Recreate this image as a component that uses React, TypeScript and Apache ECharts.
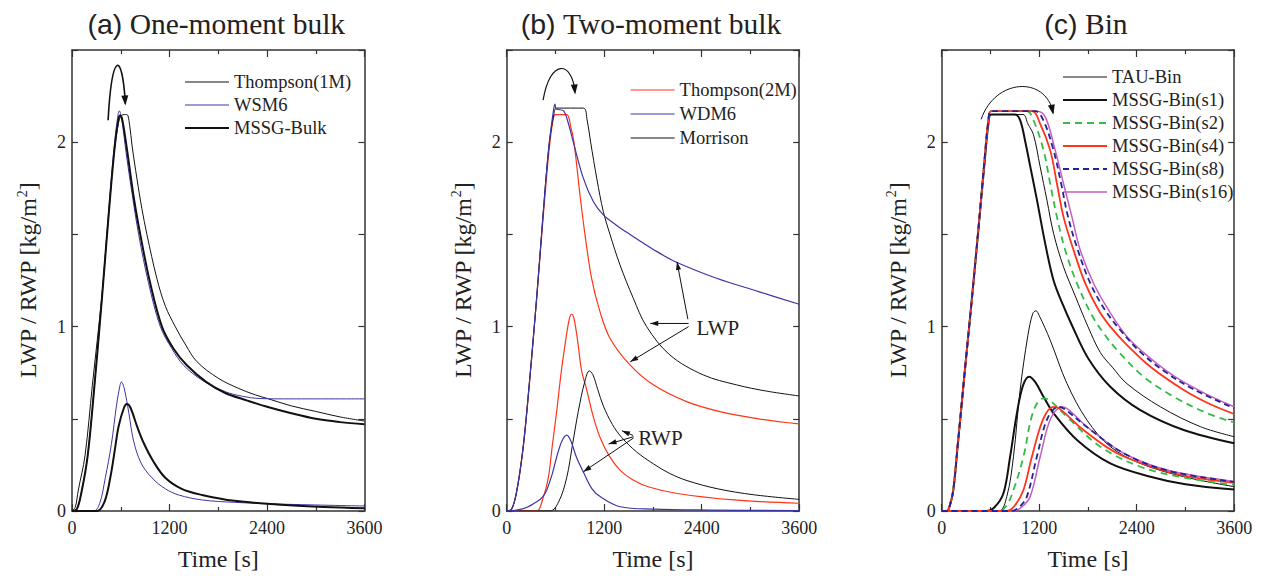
import React, { useEffect, useRef } from 'react';
import * as echarts from 'echarts';

const SERIF = "'Liberation Serif', 'Times New Roman', serif";
const SANS = "'Liberation Sans', Arial, sans-serif";
const INK = '#222';

// ---- axis & labels ----
const timeRange = [0, 3600];
const timeLabelStep = 1200;
const valueRange = [0, 2.5];
const valueTickStep = 0.5;
const panelTags = ['(a)', '(b)', '(c)'];
const panelNames = ['One-moment bulk', 'Two-moment bulk', 'Bin'];
const xName = 'Time [s]';
const legendA = ['Thompson(1M)', 'WSM6', 'MSSG-Bulk'];
const legendB = ['Thompson(2M)', 'WDM6', 'Morrison'];
const legendC = ['TAU-Bin', 'MSSG-Bin(s1)', 'MSSG-Bin(s2)', 'MSSG-Bin(s4)', 'MSSG-Bin(s8)', 'MSSG-Bin(s16)'];

// ---- panel (a) one-moment bulk : [time s, kg/m2] ----
const aThompsonLWP = [[0,0],[40,0.02],[78,0.114],[160,0.3],[250,0.68],[366,1.16],[450,1.6],[520,1.95],[570,2.1],[600,2.14],[640,2.15],[676,2.15],[710,2.09],[738,1.985],[800,1.8],[860,1.64],[922,1.5],[1045,1.26],[1150,1.11],[1271,1.0],[1400,0.9],[1537,0.81],[1800,0.72],[2050,0.665],[2255,0.63],[2420,0.608],[2700,0.57],[3000,0.54],[3300,0.51],[3600,0.488]];
const aWsm6LWP = [[0,0],[60,0.01],[120,0.11],[190,0.29],[250,0.55],[366,1.14],[450,1.62],[520,1.98],[560,2.13],[582,2.17],[610,2.13],[670,1.93],[740,1.72],[820,1.5],[940,1.24],[1087,1.0],[1230,0.88],[1374,0.79],[1600,0.71],[1886,0.647],[2100,0.622],[2300,0.61],[2600,0.608],[3600,0.608]];
const aMssgLWP = [[0,0],[60,0.01],[120,0.11],[190,0.29],[250,0.55],[366,1.14],[450,1.6],[520,1.95],[570,2.12],[594,2.145],[620,2.12],[680,1.95],[760,1.7],[840,1.5],[960,1.24],[1107,1.0],[1250,0.88],[1414,0.79],[1650,0.7],[1886,0.64],[2150,0.6],[2400,0.565],[2700,0.53],[3000,0.5],[3300,0.482],[3600,0.47]];
const aWsm6RWP = [[0,0],[266,0],[340,0.04],[410,0.18],[484,0.36],[550,0.58],[590,0.68],[607,0.7],[640,0.67],[700,0.53],[758,0.38],[850,0.26],[984,0.18],[1150,0.12],[1312,0.087],[1600,0.06],[2000,0.047],[2600,0.037],[3600,0.027]];
const aMssgRWP = [[0,0],[307,0],[400,0.05],[471,0.18],[530,0.34],[574,0.46],[640,0.56],[676,0.58],[720,0.56],[800,0.46],[881,0.37],[1000,0.27],[1148,0.18],[1350,0.12],[1600,0.087],[2000,0.055],[2624,0.033],[3100,0.022],[3600,0.015]];

// ---- panel (b) two-moment bulk ----
const bThompsonLWP = [[0,0],[60,0.01],[120,0.1],[190,0.3],[250,0.55],[366,1.14],[450,1.6],[520,1.95],[570,2.12],[600,2.15],[738,2.15],[790,2.08],[828,2.0],[902,1.714],[963,1.5],[1045,1.262],[1148,1.081],[1271,0.937],[1517,0.792],[1804,0.684],[2214,0.593],[2624,0.539],[3100,0.5],[3600,0.472]];
const bWdm6LWP = [[0,0],[60,0.01],[120,0.1],[190,0.3],[250,0.55],[366,1.14],[450,1.62],[520,1.98],[575,2.17],[594,2.206],[610,2.18],[700,2.17],[760,2.1],[820,2.0],[943,1.805],[1066,1.678],[1189,1.606],[1350,1.55],[1517,1.5],[1800,1.42],[2070,1.353],[2583,1.262],[3100,1.19],[3600,1.121]];
const bMorrisonLWP = [[0,0],[60,0.01],[120,0.1],[190,0.3],[250,0.55],[366,1.14],[450,1.62],[520,1.98],[580,2.15],[615,2.185],[943,2.185],[990,2.12],[1033,2.0],[1110,1.8],[1189,1.624],[1271,1.5],[1394,1.335],[1558,1.154],[1722,1.0],[2009,0.846],[2419,0.738],[2829,0.684],[3200,0.65],[3600,0.624]];
const bThompsonRWP = [[0,0],[369,0],[440,0.06],[512,0.18],[560,0.35],[615,0.54],[670,0.75],[717,0.9],[770,1.04],[799,1.067],[830,1.04],[880,0.9],[922,0.76],[986,0.656],[1060,0.52],[1148,0.4],[1260,0.3],[1397,0.22],[1550,0.17],[1750,0.13],[2100,0.095],[2800,0.06],[3600,0.042]];
const bWdm6RWP = [[0,0],[123,0.005],[250,0.02],[370,0.05],[440,0.075],[493,0.114],[560,0.2],[616,0.294],[680,0.38],[740,0.412],[790,0.38],[860,0.29],[945,0.21],[1050,0.12],[1150,0.078],[1397,0.023],[1800,0.01],[2500,0.005],[3600,0.002]];
const bMorrisonRWP = [[0,0],[533,0],[640,0.05],[738,0.18],[810,0.36],[881,0.54],[960,0.7],[1017,0.76],[1060,0.74],[1120,0.66],[1189,0.57],[1300,0.47],[1413,0.4],[1600,0.32],[1808,0.255],[2000,0.205],[2219,0.165],[2600,0.12],[3041,0.088],[3600,0.063]];

// ---- panel (c) bin ----
const cTauLWP = [[0,0],[62,0],[100,0.03],[143,0.114],[200,0.37],[250,0.6],[300,0.83],[370,1.144],[450,1.52],[530,1.9],[575,2.1],[610,2.15],[1000,2.15],[1060,2.1],[1130,2.04],[1212,1.866],[1295,1.686],[1377,1.505],[1499,1.324],[1640,1.17],[1800,1.0],[1952,0.86],[2100,0.78],[2281,0.69],[2692,0.565],[3185,0.457],[3600,0.403]];
const cS1LWP = [[0,0],[62,0],[100,0.03],[143,0.114],[200,0.37],[250,0.6],[300,0.83],[370,1.144],[450,1.52],[530,1.9],[575,2.1],[610,2.15],[900,2.15],[965,2.12],[1030,2.0],[1089,1.87],[1171,1.69],[1274,1.45],[1377,1.25],[1490,1.12],[1600,1.01],[1800,0.83],[2075,0.674],[2445,0.547],[2979,0.439],[3600,0.367]];
const cS2LWP = [[0,0],[62,0],[100,0.03],[143,0.114],[200,0.37],[250,0.6],[300,0.83],[370,1.144],[450,1.52],[530,1.92],[575,2.12],[610,2.168],[1048,2.168],[1130,2.119],[1253,1.957],[1335,1.776],[1418,1.595],[1520,1.415],[1665,1.234],[1850,1.06],[2000,0.96],[2158,0.873],[2486,0.728],[2856,0.62],[3267,0.53],[3600,0.48]];
const cS4LWP = [[0,0],[62,0],[100,0.03],[143,0.114],[200,0.37],[250,0.6],[300,0.83],[370,1.144],[450,1.52],[530,1.92],[575,2.12],[610,2.168],[1110,2.168],[1212,2.1],[1335,1.957],[1418,1.776],[1499,1.595],[1623,1.415],[1767,1.234],[1930,1.09],[2075,1.0],[2281,0.9],[2569,0.782],[2979,0.656],[3300,0.58],[3600,0.526]];
const cS8LWP = [[0,0],[62,0],[100,0.03],[143,0.114],[200,0.37],[250,0.6],[300,0.83],[370,1.144],[450,1.52],[530,1.92],[575,2.12],[610,2.168],[1150,2.168],[1250,2.12],[1376,1.957],[1470,1.776],[1555,1.595],[1675,1.415],[1830,1.234],[2010,1.09],[2200,0.98],[2450,0.86],[2750,0.755],[3100,0.66],[3600,0.557]];
const cS16LWP = [[0,0],[62,0],[100,0.03],[143,0.114],[200,0.37],[250,0.6],[300,0.83],[370,1.144],[450,1.52],[530,1.92],[575,2.12],[610,2.168],[1171,2.168],[1274,2.137],[1397,1.957],[1499,1.776],[1603,1.595],[1705,1.415],[1870,1.234],[2055,1.089],[2281,0.945],[2569,0.828],[2900,0.72],[3250,0.635],[3600,0.565]];
const cTauRWP = [[0,0],[700,0],[801,0.078],[883,0.294],[965,0.656],[1060,0.95],[1120,1.07],[1159,1.086],[1200,1.06],[1335,0.927],[1541,0.692],[1788,0.493],[2075,0.349],[2445,0.258],[2979,0.186],[3600,0.132]];
const cS1RWP = [[0,0],[550,0],[650,0.02],[760,0.096],[842,0.294],[925,0.529],[1000,0.68],[1077,0.728],[1150,0.7],[1253,0.62],[1377,0.53],[1665,0.385],[2075,0.258],[2569,0.186],[3000,0.145],[3600,0.116]];
const cS2RWP = [[0,0],[700,0],[800,0.03],[883,0.114],[1006,0.294],[1100,0.5],[1180,0.59],[1253,0.611],[1330,0.6],[1541,0.511],[1952,0.349],[2445,0.24],[3000,0.18],[3600,0.141]];
const cS4RWP = [[0,0],[800,0],[900,0.03],[1006,0.114],[1110,0.294],[1250,0.5],[1377,0.565],[1450,0.555],[1746,0.439],[2158,0.313],[2775,0.213],[3200,0.175],[3600,0.153]];
const cS8RWP = [[0,0],[850,0],[950,0.02],[1048,0.078],[1171,0.294],[1300,0.5],[1438,0.565],[1520,0.55],[1788,0.455],[2240,0.313],[2775,0.22],[3600,0.158]];
const cS16RWP = [[0,0],[870,0],[980,0.02],[1089,0.078],[1212,0.294],[1340,0.5],[1480,0.565],[1560,0.55],[1788,0.457],[2240,0.313],[2775,0.222],[3600,0.16]];

// ---- annotations (data coordinates) ----
const curvedArrows = [
  { panel: 0, pts: [[444, 2.119], [493, 2.499], [617, 2.499], [657, 2.21]], width: 1.6 },
  { panel: 1, pts: [[448, 2.228], [534, 2.455], [805, 2.444], [842, 2.27]], width: 1.2 },
  { panel: 2, pts: [[485, 2.124], [658, 2.346], [1275, 2.363], [1374, 2.16]], width: 1.0 },
];
const bLwpText = { text: 'LWP', at: [2336, 0.992] };
const bLwpArrows = [
  { from: [2230, 1.04], to: [2096, 1.351] },
  { from: [2239, 1.017], to: [1767, 1.017] },
  { from: [2239, 1.0], to: [1520, 0.809] },
];
const bRwpText = { text: 'RWP', at: [1619, 0.396] };
const bRwpArrows = [
  { from: [1555, 0.41], to: [1418, 0.435] },
  { from: [1561, 0.403], to: [1253, 0.363] },
  { from: [1561, 0.396], to: [944, 0.213] },
];

const gridLefts = [72, 506.7, 941.7];
const gridWidth = 292.5;
const gridTop = 50;
const gridHeight = 461;

function line(name: string, data: number[][], panel: number, color: string, width: number, type: any = 'solid', z = 2) {
  return {
    name, type: 'line', xAxisIndex: panel * 2, yAxisIndex: panel * 2, data,
    symbol: 'none', showSymbol: false, smooth: 0.35,
    lineStyle: { color, width, type }, itemStyle: { color }, z, silent: true,
  };
}

const BLUE = '#3b36a6';
const RED = '#ff3418';
const GREEN = '#33bb44';
const NAVY = '#22229c';
const MAGENTA = '#c35ec3';

function axisCommon() {
  return {
    axisLine: { show: true, onZero: false, lineStyle: { color: '#333', width: 1.5 } },
    splitLine: { show: false },
    minorSplitLine: { show: false },
  };
}

function buildAxes() {
  const xAxis: any[] = [];
  const yAxis: any[] = [];
  for (let i = 0; i < 3; i++) {
    const tick = { show: true, inside: true, length: 7, lineStyle: { color: '#333', width: 1.2 } };
    const minor = { show: true, splitNumber: 2, length: 4, lineStyle: { color: '#333', width: 1.2 } };
    xAxis.push({
      type: 'value', gridIndex: i, min: timeRange[0], max: timeRange[1], interval: timeLabelStep, position: 'bottom',
      ...axisCommon(), axisTick: tick, minorTick: minor,
      axisLabel: { show: true, fontFamily: SERIF, fontSize: 18, color: INK, margin: 8, formatter: (v: number) => String(v) },
      name: xName, nameLocation: 'middle', nameGap: 36,
      nameTextStyle: { fontFamily: SERIF, fontSize: 24, color: INK },
    });
    xAxis.push({
      type: 'value', gridIndex: i, min: timeRange[0], max: timeRange[1], interval: timeLabelStep, position: 'top',
      ...axisCommon(), axisTick: tick, minorTick: minor, axisLabel: { show: false },
    });
    const ytick = { show: true, inside: true, length: 6, lineStyle: { color: '#333', width: 1.2 } };
    yAxis.push({
      type: 'value', gridIndex: i, min: valueRange[0], max: valueRange[1], interval: valueTickStep, position: 'left',
      ...axisCommon(), axisTick: ytick,
      axisLabel: {
        show: true, fontFamily: SERIF, fontSize: 18, color: INK, margin: 6,
        formatter: (v: number) => (Math.abs(v - Math.round(v)) < 1e-9 && v < 2.4 ? String(Math.round(v)) : ''),
      },
      name: 'LWP / RWP [kg/m{sup|2}]', nameLocation: 'middle', nameGap: 31, nameRotate: 90,
      nameTextStyle: {
        fontFamily: SERIF, fontSize: 24, color: INK,
        rich: { sup: { fontFamily: SERIF, fontSize: 14, color: INK, verticalAlign: 'top', padding: [0, 0, 12, 0] } },
      },
    });
    yAxis.push({
      type: 'value', gridIndex: i, min: valueRange[0], max: valueRange[1], interval: valueTickStep, position: 'right',
      ...axisCommon(), axisTick: ytick, axisLabel: { show: false },
    });
  }
  return { xAxis, yAxis };
}

function legend(names: string[], left: number, top: number, gap: number) {
  return {
    data: names, orient: 'vertical', left, top, itemWidth: 44, itemHeight: 12, itemGap: gap,
    selectedMode: false, padding: 5,
    itemStyle: { opacity: 0, borderWidth: 0 },
    lineStyle: { width: 'inherit', type: 'inherit', color: 'inherit' },
    textStyle: { fontFamily: SERIF, fontSize: 18.5, color: INK, lineHeight: 19 },
  };
}

function arrowHead(tip: number[], from: number[], color: string, len = 9, half = 3.3) {
  const dx = tip[0] - from[0];
  const dy = tip[1] - from[1];
  const d = Math.hypot(dx, dy) || 1;
  const ux = dx / d, uy = dy / d;
  const bx = tip[0] - ux * len, by = tip[1] - uy * len;
  return {
    type: 'polygon', silent: true, z: 10,
    shape: { points: [tip, [bx - uy * half, by + ux * half], [bx + uy * half, by - ux * half]] },
    style: { fill: color },
  };
}

export default function App() {
  const ref = useRef<HTMLDivElement>(null);
  useEffect(() => {
    if (!ref.current) return;
    const chart = echarts.init(ref.current, undefined, { renderer: 'svg' });
    const { xAxis, yAxis } = buildAxes();
    const series = [
      line('Thompson(1M)', aThompsonLWP, 0, '#111', 1),
      line('WSM6', aWsm6LWP, 0, BLUE, 1),
      line('MSSG-Bulk', aMssgLWP, 0, '#111', 2),
      line('WSM6 RWP', aWsm6RWP, 0, BLUE, 1),
      line('MSSG-Bulk RWP', aMssgRWP, 0, '#111', 2),

      line('Thompson(2M)', bThompsonLWP, 1, RED, 1.2),
      line('Thompson(2M) RWP', bThompsonRWP, 1, RED, 1.2),
      line('Morrison', bMorrisonLWP, 1, '#111', 1),
      line('Morrison RWP', bMorrisonRWP, 1, '#111', 1),
      line('WDM6', bWdm6LWP, 1, BLUE, 1.2, 'solid', 3),
      line('WDM6 RWP', bWdm6RWP, 1, BLUE, 1.2),

      line('TAU-Bin', cTauLWP, 2, '#111', 1),
      line('TAU-Bin RWP', cTauRWP, 2, '#111', 1),
      line('MSSG-Bin(s1)', cS1LWP, 2, '#111', 2),
      line('MSSG-Bin(s1) RWP', cS1RWP, 2, '#111', 2),
      line('MSSG-Bin(s16)', cS16LWP, 2, MAGENTA, 1.5),
      line('MSSG-Bin(s16) RWP', cS16RWP, 2, MAGENTA, 1.5),
      line('MSSG-Bin(s2)', cS2LWP, 2, GREEN, 1.8, [7, 5], 3),
      line('MSSG-Bin(s2) RWP', cS2RWP, 2, GREEN, 1.8, [7, 5], 3),
      line('MSSG-Bin(s4)', cS4LWP, 2, RED, 1.8, 'solid', 3),
      line('MSSG-Bin(s4) RWP', cS4RWP, 2, RED, 1.8, 'solid', 3),
      line('MSSG-Bin(s8)', cS8LWP, 2, NAVY, 1.8, [6, 4], 4),
      line('MSSG-Bin(s8) RWP', cS8RWP, 2, NAVY, 1.8, [6, 4], 4),
    ];
    chart.setOption({
      animation: false,
      backgroundColor: '#fff',
      grid: gridLefts.map((l) => ({ left: l, top: gridTop, width: gridWidth, height: gridHeight, containLabel: false })),
      xAxis, yAxis,
      legend: [legend(legendA, 179, 67.5, 4), legend(legendB, 625, 75.5, 5), legend(legendC, 1057, 62.5, 4)],
      series,
    });

    const px = (panel: number, p: number[]) => chart.convertToPixel({ gridIndex: panel } as any, p) as number[];
    const g: any[] = [];
    for (let i = 0; i < 3; i++) {
      g.push({
        type: 'text', x: gridLefts[i] + gridWidth / 2 - 2, y: 24, silent: true,
        style: {
          text: `{p|${panelTags[i]}} {t|${panelNames[i]}}`,
          fontFamily: SERIF, fontSize: 29.5, fill: INK, align: 'center', verticalAlign: 'middle',
          rich: {
            p: { fontFamily: SANS, fontSize: 28.5, fill: INK },
            t: { fontFamily: SERIF, fontSize: 29.5, fill: INK },
          },
        },
      });
    }
    for (const a of curvedArrows) {
      const [p0, c1, c2, p3] = a.pts.map((p) => px(a.panel, p));
      g.push({
        type: 'bezierCurve', silent: true, z: 10,
        shape: { x1: p0[0], y1: p0[1], cpx1: c1[0], cpy1: c1[1], cpx2: c2[0], cpy2: c2[1], x2: p3[0], y2: p3[1] },
        style: { stroke: '#111', lineWidth: a.width, fill: null },
      });
      g.push(arrowHead([p3[0], p3[1] + 2], c2, '#111', 10, 3.5));
    }
    const straight = (panel: number, arr: { from: number[]; to: number[] }[]) => {
      for (const a of arr) {
        const f = px(panel, a.from);
        const t = px(panel, a.to);
        g.push({ type: 'line', silent: true, z: 10, shape: { x1: f[0], y1: f[1], x2: t[0], y2: t[1] }, style: { stroke: '#111', lineWidth: 1 } });
        g.push(arrowHead(t, f, '#111', 8, 2.6));
      }
    };
    straight(1, bLwpArrows);
    straight(1, bRwpArrows);
    for (const lab of [bLwpText, bRwpText]) {
      const p = px(1, lab.at);
      g.push({
        type: 'text', x: p[0], y: p[1], silent: true, z: 10,
        style: { text: lab.text, fontFamily: SERIF, fontSize: 21, fill: INK, align: 'left', verticalAlign: 'middle' },
      });
    }
    chart.setOption({ graphic: g });
    return () => chart.dispose();
  }, []);
  return <div ref={ref} style={{ position: 'fixed', left: 0, top: 0, width: 1263, height: 576, background: '#fff' }} />;
}
